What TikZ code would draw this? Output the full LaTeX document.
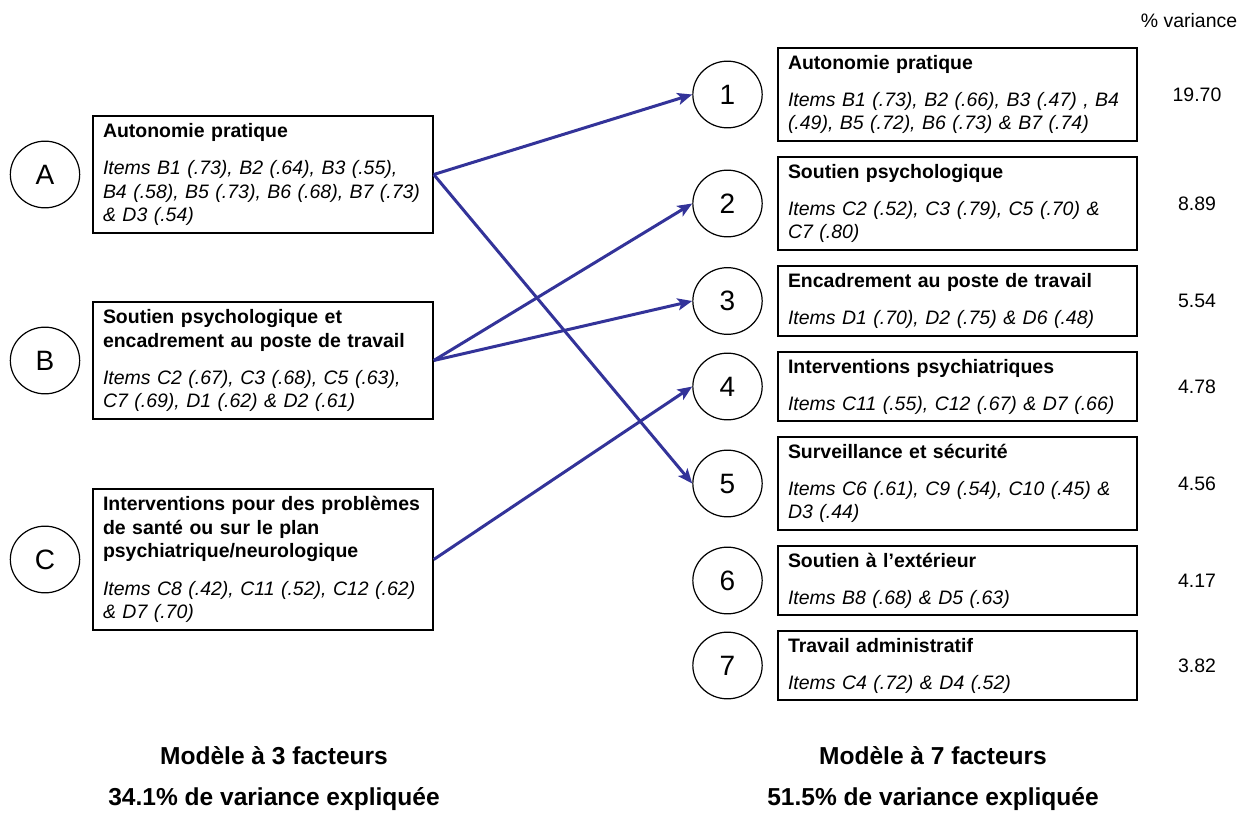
\documentclass[tikz,border=0pt]{standalone}
\usepackage{fontspec}
\setmainfont{Liberation Sans}
\usetikzlibrary{arrows.meta,shapes.geometric}
\definecolor{arrowblue}{RGB}{51,51,153}
\newcommand{\Lx}[1]{\mbox{#1}}
\hbadness=10000 \hfuzz=50pt
\begin{document}
\begin{tikzpicture}[x=0.75pt,y=-0.75pt,
  lbox/.style={draw=black, line width=1.1pt, rectangle, inner xsep=7.5pt, inner ysep=0pt,
    text width=240pt, minimum width=255pt, align=left, font=\fontsize{14.6}{17.7}\selectfont},
  rbox/.style={lbox, text width=254.25pt, minimum width=269.25pt},
  fcirc/.style={ellipse, draw=black, line width=0.9pt, minimum width=52pt, minimum height=50pt,
    inner sep=0pt, font=\fontsize{21}{21}\selectfont},
  varnum/.style={font=\fontsize{14.6}{16}\selectfont, inner sep=0pt},
  caption/.style={font=\bfseries\fontsize{18.4}{22}\selectfont, inner sep=0pt},
  arr/.style={draw=arrowblue, line width=2.25pt, -{Stealth[length=11pt,width=9pt,inset=2.5pt]}}
]
\useasboundingbox (0,0) rectangle (1248,813);

% left model
\node[lbox, minimum height=87.75pt] (bA) at (263,174.5)
  {{\bfseries\Lx{Autonomie pratique}}\\[10.5pt]{\itshape\Lx{Items B1 (.73), B2 (.64), B3 (.55),}\\\Lx{B4 (.58), B5 (.73), B6 (.68), B7 (.73)}\\\Lx{\& D3 (.54)}}};
\node[lbox, minimum height=87.75pt] (bB) at (263,360.5)
  {{\bfseries\Lx{Soutien psychologique et}\\\Lx{encadrement au poste de travail}}\\[10pt]{\itshape\Lx{Items C2 (.67), C3 (.68), C5 (.63),}\\\Lx{C7 (.69), D1 (.62) \& D2 (.61)}}};
\node[lbox, minimum height=105.75pt] (bC) at (263,559.5)
  {{\bfseries\Lx{Interventions pour des problèmes}\\\Lx{de santé ou sur le plan}\\\Lx{psychiatrique/neurologique}}\\[10.5pt]{\itshape\Lx{Items C8 (.42), C11 (.52), C12 (.62)}\\\Lx{\& D7 (.70)}}};
\node[fcirc] (cA) at (45,174.5) {A};
\node[fcirc] (cB) at (45,360.5) {B};
\node[fcirc] (cC) at (45,559.5) {C};

% right model
\node[rbox, minimum height=69.75pt] (b1) at (957.5,94.5)
  {{\bfseries\Lx{Autonomie pratique}}\\[10pt]{\itshape\Lx{Items B1 (.73), B2 (.66), B3 (.47) , B4}\\\Lx{(.49), B5 (.72), B6 (.73) \& B7 (.74)}}};
\node[rbox, minimum height=69.75pt] (b2) at (957.5,203.5)
  {{\bfseries\Lx{Soutien psychologique}}\\[10pt]{\itshape\Lx{Items C2 (.52), C3 (.79), C5 (.70) \&}\\\Lx{C7 (.80)}}};
\node[rbox, minimum height=52.5pt] (b3) at (957.5,301)
  {{\bfseries\Lx{Encadrement au poste de travail}}\\[10pt]{\itshape\Lx{Items D1 (.70), D2 (.75) \& D6 (.48)}}};
\node[rbox, minimum height=51.75pt] (b4) at (957.5,386.5)
  {{\bfseries\Lx{Interventions psychiatriques}}\\[10pt]{\itshape\Lx{Items C11 (.55), C12 (.67) \& D7 (.66)}}};
\node[rbox, minimum height=69.75pt] (b5) at (957.5,483.5)
  {{\bfseries\Lx{Surveillance et sécurité}}\\[10pt]{\itshape\Lx{Items C6 (.61), C9 (.54), C10 (.45) \&}\\\Lx{D3 (.44)}}};
\node[rbox, minimum height=51.75pt] (b6) at (957.5,580.5)
  {{\bfseries\Lx{Soutien à l’extérieur}}\\[10pt]{\itshape\Lx{Items B8 (.68) \& D5 (.63)}}};
\node[rbox, minimum height=51.75pt] (b7) at (957.5,665.5)
  {{\bfseries\Lx{Travail administratif}}\\[10pt]{\itshape\Lx{Items C4 (.72) \& D4 (.52)}}};

\node[fcirc] (c1) at (727.5,94.5) {1};
\node[fcirc] (c2) at (727.5,203.5) {2};
\node[fcirc] (c3) at (727.5,301) {3};
\node[fcirc] (c4) at (727.5,386.5) {4};
\node[fcirc] (c5) at (727.5,483.5) {5};
\node[fcirc] (c6) at (727.5,580.5) {6};
\node[fcirc] (c7) at (727.5,665.5) {7};

% variance column
\node[varnum] (vh) at (1189,21) {\% variance};
\node[varnum] (v1) at (1197,94.5) {19.70};
\node[varnum] (v2) at (1197,203.5) {8.89};
\node[varnum] (v3) at (1197,301) {5.54};
\node[varnum] (v4) at (1197,386.5) {4.78};
\node[varnum] (v5) at (1197,483.5) {4.56};
\node[varnum] (v6) at (1197,580.5) {4.17};
\node[varnum] (v7) at (1197,665.5) {3.82};

% captions
\node[caption] (m3a) at (274,756) {Modèle à 3 facteurs};
\node[caption] (m3b) at (274,799) {34.1\% de variance expliquée};
\node[caption] (m7a) at (933,756) {Modèle à 7 facteurs};
\node[caption] (m7b) at (933,799) {51.5\% de variance expliquée};

% connectors
\draw[arr] (bA.east) -- (c1.west);
\draw[arr] (bA.east) -- (c5.west);
\draw[arr] (bB.east) -- (c2.west);
\draw[arr] (bB.east) -- (c3.west);
\draw[arr] (bC.east) -- (c4.west);
\end{tikzpicture}
\end{document}
